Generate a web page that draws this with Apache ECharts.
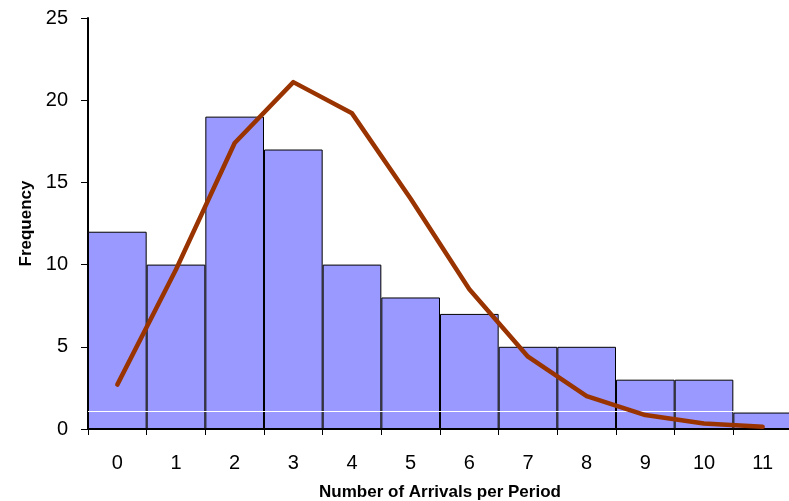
<!DOCTYPE html>
<html>
<head>
<meta charset="utf-8">
<script src="https://cdn.jsdelivr.net/npm/echarts@6/dist/echarts.min.js"></script>
<style>
html,body{margin:0;padding:0;background:#fff;}
#chart{width:789px;height:501px;}
</style>
</head>
<body>
<div id="chart"></div>
<script>
var categories = ['0','1','2','3','4','5','6','7','8','9','10','11'];
var observed = [12, 10, 19, 17, 10, 8, 7, 5, 5, 3, 3, 1];
var expected = [2.7, 9.7, 17.4, 21.1, 19.2, 14.0, 8.5, 4.4, 2.0, 0.85, 0.33, 0.13];
var yTicks = [0, 5, 10, 15, 20, 25];
var whiteRuleValue = 1.1;

var chart = echarts.init(document.getElementById('chart'), null, {renderer:'canvas'});
var font = 'Liberation Sans, Arial, sans-serif';
chart.setOption({
  animation: false,
  backgroundColor: '#ffffff',
  grid: {left: 88, top: 18, width: 704, height: 411, containLabel: false, outerBoundsMode: 'none'},
  xAxis: {
    type: 'category',
    data: categories,
    boundaryGap: true,
    name: 'Number of Arrivals per Period',
    nameLocation: 'middle',
    nameGap: 55,
    nameTextStyle: {fontFamily: font, fontSize: 17, fontWeight: 'bold', color: '#000'},
    axisLine: {lineStyle: {color: '#000', width: 2}},
    axisTick: {show: true, alignWithLabel: false, length: 6, lineStyle: {color: '#000', width: 1}},
    axisLabel: {fontFamily: font, fontSize: 20, color: '#000', margin: 24},
    splitLine: {show: false}
  },
  yAxis: {
    type: 'value',
    min: yTicks[0],
    max: yTicks[yTicks.length - 1],
    interval: 5,
    name: 'Frequency',
    nameLocation: 'middle',
    nameGap: 48,
    nameRotate: 90,
    nameTextStyle: {fontFamily: font, fontSize: 17, fontWeight: 'bold', color: '#000'},
    axisLine: {show: true, lineStyle: {color: '#000', width: 2}},
    axisTick: {show: true, length: 7, lineStyle: {color: '#000', width: 1}},
    axisLabel: {fontFamily: font, fontSize: 20, color: '#000', margin: 20},
    splitLine: {show: false}
  },
  series: [
    {
      type: 'bar',
      data: observed,
      barCategoryGap: '0%',
      itemStyle: {color: '#9999FF', borderColor: '#000', borderWidth: 1},
      markLine: {
        silent: true,
        symbol: ['none', 'none'],
        label: {show: false},
        lineStyle: {color: '#ffffff', width: 1, type: 'solid'},
        data: [{yAxis: whiteRuleValue}]
      }
    },
    {
      type: 'line',
      data: expected,
      symbol: 'none',
      smooth: false,
      z: 5,
      lineStyle: {color: '#993300', width: 4.5, cap: 'round', join: 'round'}
    }
  ]
});
</script>
</body>
</html>
